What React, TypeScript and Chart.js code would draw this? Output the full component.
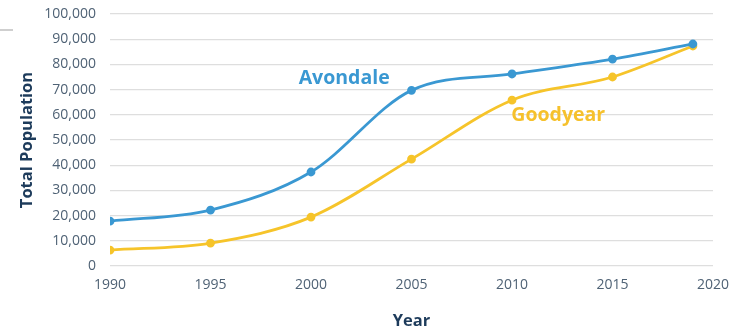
import React, { useEffect, useRef } from "react";
import { Chart, registerables } from "chart.js";

Chart.register(...registerables);

const years = [1990, 1995, 2000, 2005, 2010, 2015, 2019];
const avondale = [17800, 22200, 37300, 69700, 76200, 82100, 88100];
const goodyear = [6300, 9100, 19400, 42400, 65800, 75000, 87300];
const xTicks = [1990, 1995, 2000, 2005, 2010, 2015, 2020];
const seriesLabels = [
  { text: "Avondale", x: 2001.65, y: 74600, color: "#3a98d2" },
  { text: "Goodyear", x: 2012.3, y: 59600, color: "#f6c12c" },
];

const BLUE = "#3a98d2";
const YELLOW = "#f6c42a";

const labelPlugin = {
  id: "seriesLabels",
  afterDatasetsDraw(chart: any) {
    const { ctx, scales } = chart;
    ctx.save();
    ctx.font = "bold 19.5px 'Open Sans'";
    ctx.textAlign = "center";
    ctx.textBaseline = "middle";
    for (const l of seriesLabels) {
      ctx.fillStyle = l.color;
      ctx.fillText(l.text, scales.x.getPixelForValue(l.x), scales.y.getPixelForValue(l.y));
    }
    ctx.restore();
  },
};

export default function App() {
  const ref = useRef<HTMLCanvasElement>(null);
  useEffect(() => {
    const chart = new Chart(ref.current!, {
      type: "line",
      data: {
        datasets: [
          {
            label: "Avondale",
            data: years.map((y, i) => ({ x: y, y: avondale[i] })),
            borderColor: BLUE,
            backgroundColor: BLUE,
            borderWidth: 2.8,
            pointRadius: 3,
            cubicInterpolationMode: "monotone",
          },
          {
            label: "Goodyear",
            data: years.map((y, i) => ({ x: y, y: goodyear[i] })),
            borderColor: YELLOW,
            backgroundColor: YELLOW,
            borderWidth: 2.8,
            pointRadius: 3,
            cubicInterpolationMode: "monotone",
          },
        ],
      },
      options: {
        animation: false,
        responsive: true,
        maintainAspectRatio: false,
        layout: { padding: { top: 14, right: 25, left: 0, bottom: 0 } },
        plugins: { legend: { display: false }, tooltip: { enabled: false } },
        scales: {
          x: {
            type: "linear",
            min: 1990,
            max: 2020,
            afterFit: (s: any) => {
              s.height = 67;
              s.paddingLeft = 0;
              s.paddingRight = 0;
            },
            afterBuildTicks: (s: any) => {
              s.ticks = xTicks.map((v) => ({ value: v }));
            },
            grid: { display: false, drawTicks: false },
            border: { display: false },
            ticks: {
              padding: 11,
              color: "#4f6275",
              font: { family: "'Open Sans'", size: 14 },
              callback: (v: any) => String(v),
            },
            title: {
              display: true,
              text: "Year",
              color: "#1d3b5b",
              font: { family: "'Open Sans'", size: 16.5, weight: "bold" },
              padding: { top: 0, bottom: 2 },
            },
          },
          y: {
            min: 0,
            max: 100000,
            afterFit: (s: any) => {
              s.width = 110;
              s.paddingTop = 0;
              s.paddingBottom = 0;
            },
            ticks: {
              stepSize: 10000,
              padding: 14,
              color: "#4f6275",
              font: { family: "'Open Sans'", size: 14 },
              callback: (v: any) => Number(v).toLocaleString("en-US"),
            },
            grid: { color: "#dedede", lineWidth: 1.2, drawTicks: false },
            border: { display: false },
            title: {
              display: true,
              text: "Total Population",
              color: "#1d3b5b",
              font: { family: "'Open Sans'", size: 16.5, weight: "bold" },
              padding: { top: 17, bottom: 0 },
            },
          },
        },
      },
      plugins: [labelPlugin],
    } as any);
    return () => chart.destroy();
  }, []);
  return (
    <div style={{ position: "fixed", left: 0, top: 0, width: 738, height: 333, background: "#fff" }}>
      <div style={{ position: "absolute", left: 0, top: 29, width: 13, height: 2, background: "#cfcfcf" }} />
      <canvas ref={ref} />
    </div>
  );
}
